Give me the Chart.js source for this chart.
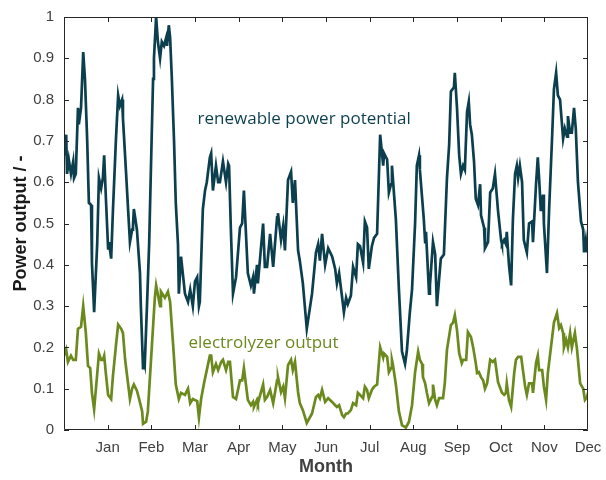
<!DOCTYPE html>
<html lang="en">
<head>
    <meta charset="UTF-8">
    <title>Power output</title>
    <style>
        body {
            margin: 0;
            background: #ffffff;
        }
        #wrap {
            width: 606px;
            height: 480px;
        }
    </style>
    <script src="https://cdn.jsdelivr.net/npm/chart.js"></script>
</head>
<body>
    <div id="wrap"><canvas id="powerChart" width="606" height="480"></canvas></div>

    <script>
        // month labels on the x axis (tick 1 = Jan ... tick 12 = Dec)
        const monthLabels = ['Jan', 'Feb', 'Mar', 'Apr', 'May', 'Jun', 'Jul', 'Aug', 'Sep', 'Oct', 'Nov', 'Dec'];
        const yTicks = [0, 0.1, 0.2, 0.3, 0.4, 0.5, 0.6, 0.7, 0.8, 0.9, 1];

        // [month, value]
        const renewable = [
            [0.00,0.665],[0.05,0.715],[0.07,0.62],[0.11,0.655],[0.16,0.62],[0.21,0.65],[0.23,0.61],[0.27,0.62],[0.32,0.78],[0.34,0.74],
            [0.39,0.78],[0.44,0.915],[0.48,0.85],[0.53,0.705],[0.57,0.55],[0.62,0.545],[0.64,0.405],[0.69,0.285],[0.76,0.45],[0.80,0.61],
            [0.85,0.585],[0.89,0.61],[0.92,0.665],[0.96,0.56],[1.01,0.44],[1.03,0.455],[1.08,0.415],[1.12,0.53],[1.19,0.705],[1.24,0.81],
            [1.28,0.785],[1.33,0.80],[1.35,0.755],[1.42,0.625],[1.47,0.53],[1.51,0.455],[1.56,0.485],[1.58,0.495],[1.60,0.535],[1.67,0.485],
            [1.74,0.38],[1.76,0.30],[1.81,0.15],[1.83,0.17],[1.85,0.16],[1.90,0.30],[1.95,0.45],[1.99,0.63],[2.04,0.85],[2.06,0.90],
            [2.11,1.0],[2.15,0.94],[2.20,0.90],[2.24,0.94],[2.29,0.93],[2.34,0.95],[2.36,0.93],[2.40,0.98],[2.43,0.95],[2.47,0.85],
            [2.52,0.70],[2.56,0.55],[2.61,0.45],[2.63,0.33],[2.68,0.42],[2.73,0.37],[2.77,0.33],[2.84,0.31],[2.89,0.34],[2.95,0.30],
            [3.00,0.36],[3.05,0.37],[3.09,0.30],[3.11,0.31],[3.18,0.535],[3.23,0.58],[3.27,0.60],[3.34,0.66],[3.37,0.67],[3.41,0.58],
            [3.48,0.64],[3.53,0.60],[3.57,0.60],[3.64,0.65],[3.71,0.60],[3.76,0.645],[3.78,0.64],[3.82,0.49],[3.87,0.33],[3.94,0.37],
            [4.03,0.49],[4.08,0.50],[4.12,0.58],[4.21,0.38],[4.28,0.35],[4.33,0.37],[4.35,0.33],[4.42,0.40],[4.44,0.355],[4.56,0.50],
            [4.60,0.395],[4.65,0.395],[4.72,0.475],[4.79,0.395],[4.88,0.515],[4.90,0.525],[4.97,0.46],[5.02,0.495],[5.06,0.435],[5.13,0.605],
            [5.20,0.625],[5.24,0.55],[5.29,0.605],[5.36,0.435],[5.40,0.41],[5.47,0.355],[5.56,0.245],[5.68,0.33],[5.77,0.43],[5.82,0.45],
            [5.86,0.41],[5.91,0.475],[5.98,0.40],[6.05,0.44],[6.14,0.42],[6.21,0.39],[6.25,0.355],[6.30,0.38],[6.37,0.32],[6.41,0.285],
            [6.46,0.32],[6.50,0.305],[6.57,0.325],[6.62,0.395],[6.69,0.37],[6.73,0.45],[6.78,0.445],[6.85,0.405],[6.89,0.505],[6.94,0.49],
            [6.98,0.39],[7.05,0.445],[7.10,0.465],[7.17,0.475],[7.24,0.715],[7.31,0.64],[7.33,0.67],[7.40,0.655],[7.44,0.575],[7.49,0.595],
            [7.51,0.64],[7.60,0.51],[7.67,0.34],[7.74,0.19],[7.81,0.16],[7.85,0.19],[7.92,0.285],[7.97,0.34],[8.04,0.50],[8.08,0.64],
            [8.13,0.665],[8.15,0.63],[8.24,0.51],[8.27,0.455],[8.29,0.48],[8.36,0.33],[8.38,0.35],[8.45,0.455],[8.50,0.425],[8.54,0.30],
            [8.59,0.365],[8.63,0.415],[8.70,0.425],[8.77,0.61],[8.82,0.69],[8.86,0.82],[8.93,0.83],[8.95,0.865],[9.00,0.78],[9.05,0.665],
            [9.09,0.62],[9.14,0.64],[9.18,0.63],[9.23,0.77],[9.27,0.795],[9.30,0.74],[9.34,0.715],[9.39,0.65],[9.43,0.56],[9.48,0.545],
            [9.53,0.595],[9.55,0.52],[9.62,0.49],[9.64,0.44],[9.71,0.455],[9.76,0.575],[9.82,0.585],[9.87,0.62],[9.94,0.53],[10.01,0.46],
            [10.03,0.45],[10.08,0.46],[10.12,0.45],[10.14,0.48],[10.19,0.40],[10.24,0.35],[10.28,0.51],[10.33,0.62],[10.37,0.64],[10.40,0.61],
            [10.44,0.64],[10.49,0.60],[10.53,0.46],[10.60,0.43],[10.65,0.50],[10.72,0.505],[10.74,0.455],[10.81,0.595],[10.85,0.66],[10.88,0.61],
            [10.92,0.53],[10.97,0.57],[10.99,0.50],[11.06,0.38],[11.11,0.535],[11.18,0.715],[11.22,0.825],[11.27,0.865],[11.31,0.81],[11.36,0.80],
            [11.43,0.705],[11.47,0.73],[11.52,0.71],[11.54,0.76],[11.59,0.72],[11.63,0.72],[11.68,0.78],[11.72,0.73],[11.77,0.60],[11.84,0.505],
            [11.89,0.485],[11.91,0.43],[11.95,0.46],[11.98,0.43],[12.00,0.455]
        ];

        const electrolyzer = [
            [0.00,0.18],[0.05,0.195],[0.09,0.165],[0.16,0.18],[0.21,0.17],[0.27,0.17],[0.32,0.245],[0.39,0.25],[0.44,0.30],[0.50,0.235],
            [0.55,0.155],[0.60,0.15],[0.64,0.09],[0.69,0.05],[0.76,0.135],[0.80,0.185],[0.85,0.17],[0.89,0.17],[0.92,0.18],[0.96,0.135],
            [1.01,0.085],[1.08,0.075],[1.12,0.13],[1.19,0.205],[1.24,0.255],[1.31,0.245],[1.35,0.235],[1.40,0.17],[1.47,0.11],[1.51,0.075],
            [1.56,0.10],[1.60,0.11],[1.67,0.095],[1.72,0.075],[1.79,0.045],[1.81,0.015],[1.88,0.02],[1.92,0.045],[1.99,0.165],[2.08,0.32],
            [2.11,0.35],[2.20,0.30],[2.22,0.335],[2.31,0.32],[2.38,0.335],[2.43,0.31],[2.50,0.205],[2.56,0.11],[2.63,0.075],[2.68,0.09],
            [2.77,0.085],[2.84,0.10],[2.89,0.065],[2.95,0.075],[3.05,0.07],[3.09,0.03],[3.14,0.075],[3.21,0.115],[3.27,0.145],[3.34,0.18],
            [3.37,0.18],[3.41,0.14],[3.48,0.16],[3.53,0.145],[3.60,0.165],[3.64,0.17],[3.71,0.145],[3.76,0.165],[3.80,0.165],[3.87,0.08],
            [3.94,0.075],[4.03,0.12],[4.08,0.12],[4.12,0.15],[4.21,0.073],[4.28,0.06],[4.33,0.068],[4.35,0.056],[4.42,0.073],[4.44,0.065],
            [4.56,0.11],[4.60,0.073],[4.65,0.08],[4.72,0.097],[4.79,0.065],[4.88,0.12],[4.90,0.128],[4.97,0.092],[5.02,0.105],[5.06,0.077],
            [5.13,0.157],[5.20,0.17],[5.24,0.145],[5.29,0.165],[5.36,0.092],[5.40,0.065],[5.47,0.048],[5.56,0.017],[5.68,0.04],[5.77,0.08],
            [5.82,0.085],[5.86,0.077],[5.91,0.097],[5.98,0.068],[6.05,0.077],[6.14,0.068],[6.21,0.06],[6.25,0.056],[6.30,0.06],[6.37,0.036],
            [6.41,0.031],[6.46,0.04],[6.50,0.04],[6.57,0.048],[6.62,0.065],[6.69,0.06],[6.73,0.09],[6.78,0.085],[6.85,0.077],[6.89,0.105],
            [6.94,0.097],[6.98,0.077],[7.05,0.097],[7.10,0.105],[7.17,0.11],[7.24,0.20],[7.31,0.175],[7.33,0.185],[7.40,0.177],[7.44,0.14],
            [7.49,0.15],[7.51,0.17],[7.53,0.16],[7.60,0.11],[7.67,0.045],[7.74,0.012],[7.83,0.006],[7.90,0.02],[7.97,0.06],[8.04,0.14],
            [8.11,0.19],[8.15,0.17],[8.20,0.16],[8.22,0.128],[8.27,0.113],[8.31,0.09],[8.36,0.065],[8.43,0.08],[8.45,0.11],[8.50,0.073],
            [8.54,0.06],[8.59,0.077],[8.68,0.077],[8.72,0.113],[8.77,0.194],[8.86,0.254],[8.91,0.26],[8.95,0.278],[9.00,0.242],[9.05,0.186],
            [9.11,0.162],[9.14,0.17],[9.21,0.17],[9.25,0.237],[9.32,0.225],[9.37,0.20],[9.43,0.162],[9.46,0.138],[9.50,0.14],[9.55,0.128],
            [9.60,0.12],[9.64,0.10],[9.69,0.113],[9.76,0.17],[9.82,0.165],[9.87,0.17],[9.94,0.116],[10.03,0.09],[10.08,0.085],[10.12,0.09],
            [10.14,0.113],[10.19,0.073],[10.24,0.056],[10.31,0.138],[10.35,0.17],[10.40,0.177],[10.47,0.177],[10.51,0.145],[10.56,0.105],[10.60,0.085],
            [10.65,0.113],[10.72,0.113],[10.74,0.09],[10.81,0.162],[10.85,0.18],[10.88,0.145],[10.95,0.145],[10.99,0.105],[11.04,0.073],[11.08,0.138],
            [11.18,0.225],[11.22,0.26],[11.29,0.283],[11.34,0.247],[11.38,0.254],[11.43,0.235],[11.45,0.20],[11.50,0.218],[11.54,0.20],[11.59,0.235],
            [11.63,0.20],[11.70,0.235],[11.75,0.194],[11.82,0.113],[11.89,0.10],[11.93,0.073],[11.98,0.08],[12.00,0.09]
        ];

        const blueColor = '#0b3f4e';
        const greenColor = '#6a8a1e';
        const axisColor = '#262626';

        Chart.defaults.font.family = "'Liberation Sans', Arial, sans-serif";
        Chart.defaults.font.size = 15;
        Chart.defaults.color = '#404040';

        // box round the plot with inward ticks on all four sides
        const framePlugin = {
            id: 'frame',
            afterDatasetsDraw(chart) {
                const {ctx, chartArea: a, scales: {x, y}} = chart;
                ctx.save();
                ctx.strokeStyle = axisColor;
                ctx.lineWidth = 1;
                ctx.beginPath();
                ctx.rect(Math.round(a.left) + 0.5, Math.round(a.top) + 0.5,
                         Math.round(a.right - a.left) - 1, Math.round(a.bottom - a.top) - 1);
                for (const t of yTicks) {
                    const py = Math.round(y.getPixelForValue(t)) + 0.5;
                    ctx.moveTo(a.left, py); ctx.lineTo(a.left + 5, py);
                    ctx.moveTo(a.right - 5, py); ctx.lineTo(a.right, py);
                }
                for (let m = 1; m < monthLabels.length; m++) {
                    const px = Math.round(x.getPixelForValue(m)) + 0.5;
                    ctx.moveTo(px, a.bottom); ctx.lineTo(px, a.bottom - 5);
                    ctx.moveTo(px, a.top); ctx.lineTo(px, a.top + 5);
                }
                ctx.stroke();
                ctx.restore();
            }
        };

        // inline labels next to the lines
        const labelPlugin = {
            id: 'lineLabels',
            afterDatasetsDraw(chart) {
                const {ctx, scales: {x, y}} = chart;
                ctx.save();
                ctx.font = "17px 'Open Sans', sans-serif";
                ctx.textAlign = 'center';
                ctx.textBaseline = 'middle';
                ctx.fillStyle = blueColor;
                ctx.fillText('renewable power potential', x.getPixelForValue(5.5), y.getPixelForValue(0.753));
                ctx.fillStyle = greenColor;
                ctx.fillText('electrolyzer output', x.getPixelForValue(4.57), y.getPixelForValue(0.21));
                ctx.restore();
            }
        };

        const ctx = document.getElementById('powerChart').getContext('2d');
        new Chart(ctx, {
            type: 'line',
            data: {
                datasets: [
                    {
                        label: 'renewable power potential',
                        data: renewable.map(p => ({x: p[0], y: p[1]})),
                        borderColor: blueColor,
                        borderWidth: 2.7,
                        pointRadius: 0,
                        tension: 0
                    },
                    {
                        label: 'electrolyzer output',
                        data: electrolyzer.map(p => ({x: p[0], y: p[1]})),
                        borderColor: greenColor,
                        borderWidth: 2.7,
                        pointRadius: 0,
                        tension: 0
                    }
                ]
            },
            options: {
                responsive: false,
                animation: false,
                layout: {padding: {top: 17, right: 18, left: 0, bottom: 0}},
                plugins: {
                    legend: {display: false},
                    tooltip: {enabled: false}
                },
                scales: {
                    x: {
                        type: 'linear',
                        min: 0,
                        max: 12,
                        grid: {display: false, drawTicks: false},
                        border: {display: false},
                        afterBuildTicks: scale => {
                            scale.ticks = [0, ...monthLabels.map((_, i) => i + 1)].map(v => ({value: v}));
                        },
                        ticks: {
                            autoSkip: false,
                            maxRotation: 0,
                            padding: 9,
                            callback: v => (v >= 1 ? monthLabels[v - 1] : '')
                        },
                        afterFit: scale => {
                            scale.height = 50;
                            scale.paddingLeft = 0;
                            scale.paddingRight = 0;
                        },
                        title: {
                            display: true,
                            text: 'Month',
                            color: '#404040',
                            font: {size: 18, weight: 'bold'},
                            padding: {top: 0, bottom: 2}
                        }
                    },
                    y: {
                        min: 0,
                        max: 1,
                        grid: {display: false, drawTicks: false},
                        border: {display: false},
                        afterBuildTicks: scale => {
                            scale.ticks = yTicks.map(v => ({value: v}));
                        },
                        ticks: {
                            padding: 10,
                            callback: v => String(Math.round(v * 10) / 10)
                        },
                        afterFit: scale => {
                            scale.width = 64;
                            scale.paddingTop = 0;
                            scale.paddingBottom = 0;
                        },
                        title: {
                            display: true,
                            text: 'Power output / -',
                            color: '#1a1a1a',
                            font: {size: 18, weight: 'bold'},
                            padding: {top: 10, bottom: 0}
                        }
                    }
                }
            },
            plugins: [framePlugin, labelPlugin]
        });
    </script>
</body>
</html>
